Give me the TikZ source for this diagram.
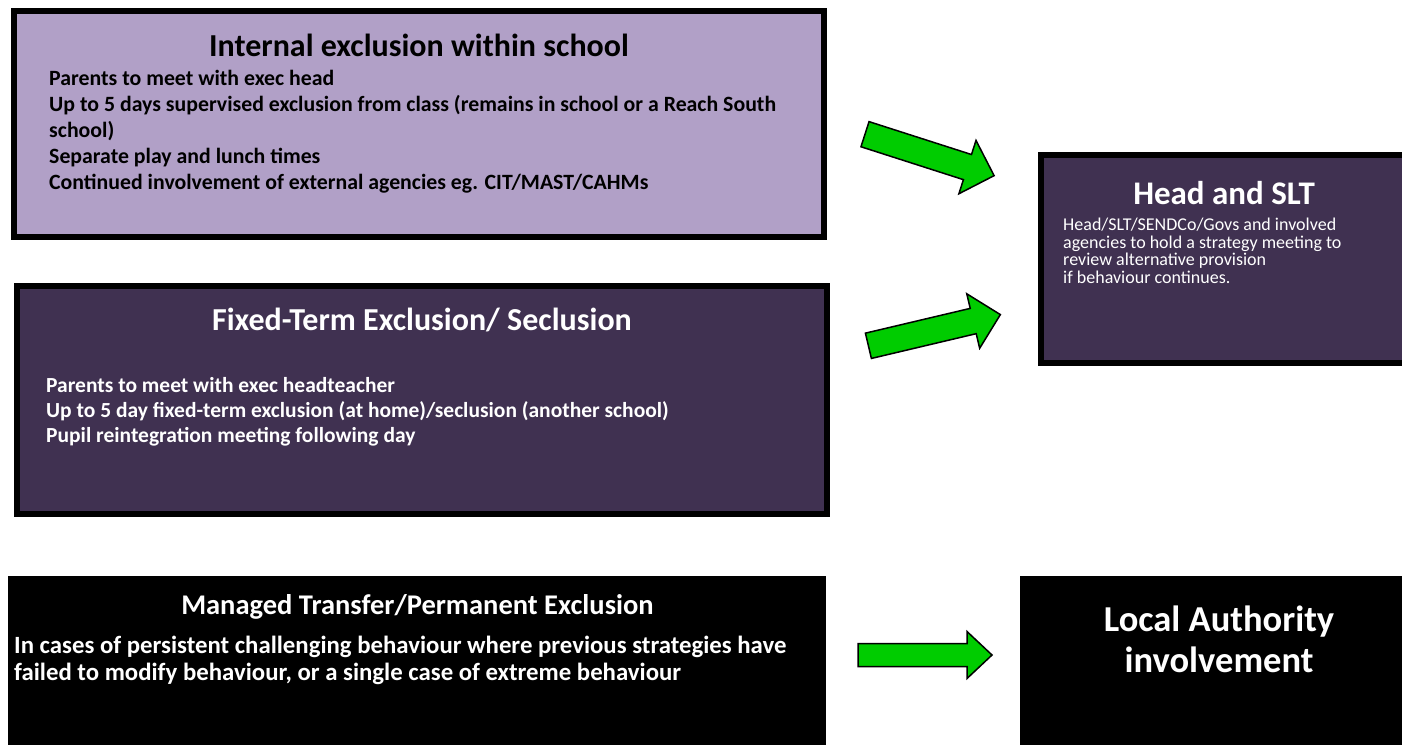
\documentclass[tikz,border=0pt]{standalone}
\usepackage{fontspec}
\setmainfont{Carlito}
\definecolor{lav}{HTML}{B1A0C7}
\definecolor{dpurp}{HTML}{403151}
\definecolor{agreen}{HTML}{00CC00}
\tikzset{
  boxframe/.style={draw=black, line width=6pt, rectangle, inner sep=0pt},
  ttl/.style={font=\bfseries\fontsize{32}{37}\selectfont, inner sep=0pt, anchor=base},
  bigttl/.style={font=\bfseries\fontsize{33}{38}\selectfont, inner sep=0pt, anchor=base, text=white},
  bodyb/.style={font=\bfseries\fontsize{21.8}{26}\selectfont, inner sep=0pt, anchor=base west},
  bodyr/.style={font=\fontsize{18}{21}\selectfont, inner sep=0pt, anchor=base west, text=white},
  garrow/.style={fill=agreen, draw=black, line width=1.5pt, line join=miter},
}
\begin{document}
\begin{tikzpicture}[x=1pt, y=-1pt]
\useasboundingbox (0,0) rectangle (1402,744);
\clip (0,0) rectangle (1402,744);
\fill[white] (0,0) rectangle (1402,744);

% boxes
\node[boxframe, fill=lav, minimum width=810pt, minimum height=226pt] (box1) at (419,124) {};
\node[boxframe, fill=dpurp, minimum width=810pt, minimum height=228pt] (box2) at (422,400) {};
\node[boxframe, fill=black, minimum width=812pt, minimum height=181pt] (box3) at (417,669.5) {};
\node[boxframe, fill=dpurp, minimum width=365pt, minimum height=208pt] (head) at (1223.5,259) {};
\node[boxframe, fill=black, minimum width=397pt, minimum height=181pt] (la) at (1221.5,669.5) {};

% box 1 text
\node[ttl] (t1) at (419,56) {Internal exclusion within school};
\node[bodyb] (b1a) at (49,85) {Parents to meet with exec head};
\node[bodyb] (b1b) at (49,111) {Up to 5 days supervised exclusion from class (remains in school or a Reach South};
\node[bodyb] (b1c) at (49,137) {school)};
\node[bodyb] (b1d) at (49,163) {Separate play and lunch times};
\node[bodyb] (b1e) at (49,189) {Continued involvement of external agencies eg. CIT/MAST/CAHMs};

% box 2 text
\node[ttl, text=white] (t2) at (422,330) {Fixed-Term Exclusion/ Seclusion};
\node[bodyb, text=white, font=\bfseries\fontsize{21.5}{26}\selectfont] (b2a) at (46,392) {Parents to meet with exec headteacher};
\node[bodyb, text=white, font=\bfseries\fontsize{21.5}{26}\selectfont] (b2b) at (46,417) {Up to 5 day fixed-term exclusion (at home)/seclusion (another school)};
\node[bodyb, text=white, font=\bfseries\fontsize{21.5}{26}\selectfont] (b2c) at (46,442) {Pupil reintegration meeting following day};

% box 3 text
\node[ttl, text=white, font=\bfseries\fontsize{28.5}{33}\selectfont] (t3) at (417.5,614) {Managed Transfer/Permanent Exclusion};
\node[bodyb, text=white, font=\bfseries\fontsize{24.8}{29}\selectfont] (b3a) at (14,653) {In cases of persistent challenging behaviour where previous strategies have};
\node[bodyb, text=white, font=\bfseries\fontsize{24.8}{29}\selectfont] (b3b) at (14,680) {failed to modify behaviour, or a single case of extreme behaviour};

% head box text
\node[bigttl] (th) at (1224,204) {Head and SLT};
\node[bodyr] (bha) at (1063,230.5) {Head/SLT/SENDCo/Govs and involved};
\node[bodyr] (bhb) at (1063,248) {agencies to hold a strategy meeting to};
\node[bodyr] (bhc) at (1063,265.5) {review alternative provision};
\node[bodyr] (bhd) at (1063,283) {if behaviour continues.};

% LA text
\node[bigttl, font=\bfseries\fontsize{36.5}{42}\selectfont] (tla1) at (1219,631) {Local Authority};
\node[bigttl, font=\bfseries\fontsize{36.5}{42}\selectfont] (tla2) at (1219,672) {involvement};

% arrows
\begin{scope}[shift={(865,134.2)}, rotate=-17.8]
  \draw[garrow] (0,-13.2) -- (107.6,-13.2) -- (107.6,-28) -- (135.6,0) -- (107.6,28) -- (107.6,13.2) -- (0,13.2) -- cycle;
\end{scope}
\begin{scope}[shift={(868.4,345.8)}, rotate=13.3]
  \draw[garrow] (0,-13) -- (107.7,-13) -- (107.7,-28) -- (135.6,0) -- (107.7,28) -- (107.7,13) -- (0,13) -- cycle;
\end{scope}
\begin{scope}[shift={(858,655)}]
  \draw[garrow] (0,-11.5) -- (109,-11.5) -- (109,-23.5) -- (134,0) -- (109,23.5) -- (109,11.5) -- (0,11.5) -- cycle;
\end{scope}
\end{tikzpicture}
\end{document}
